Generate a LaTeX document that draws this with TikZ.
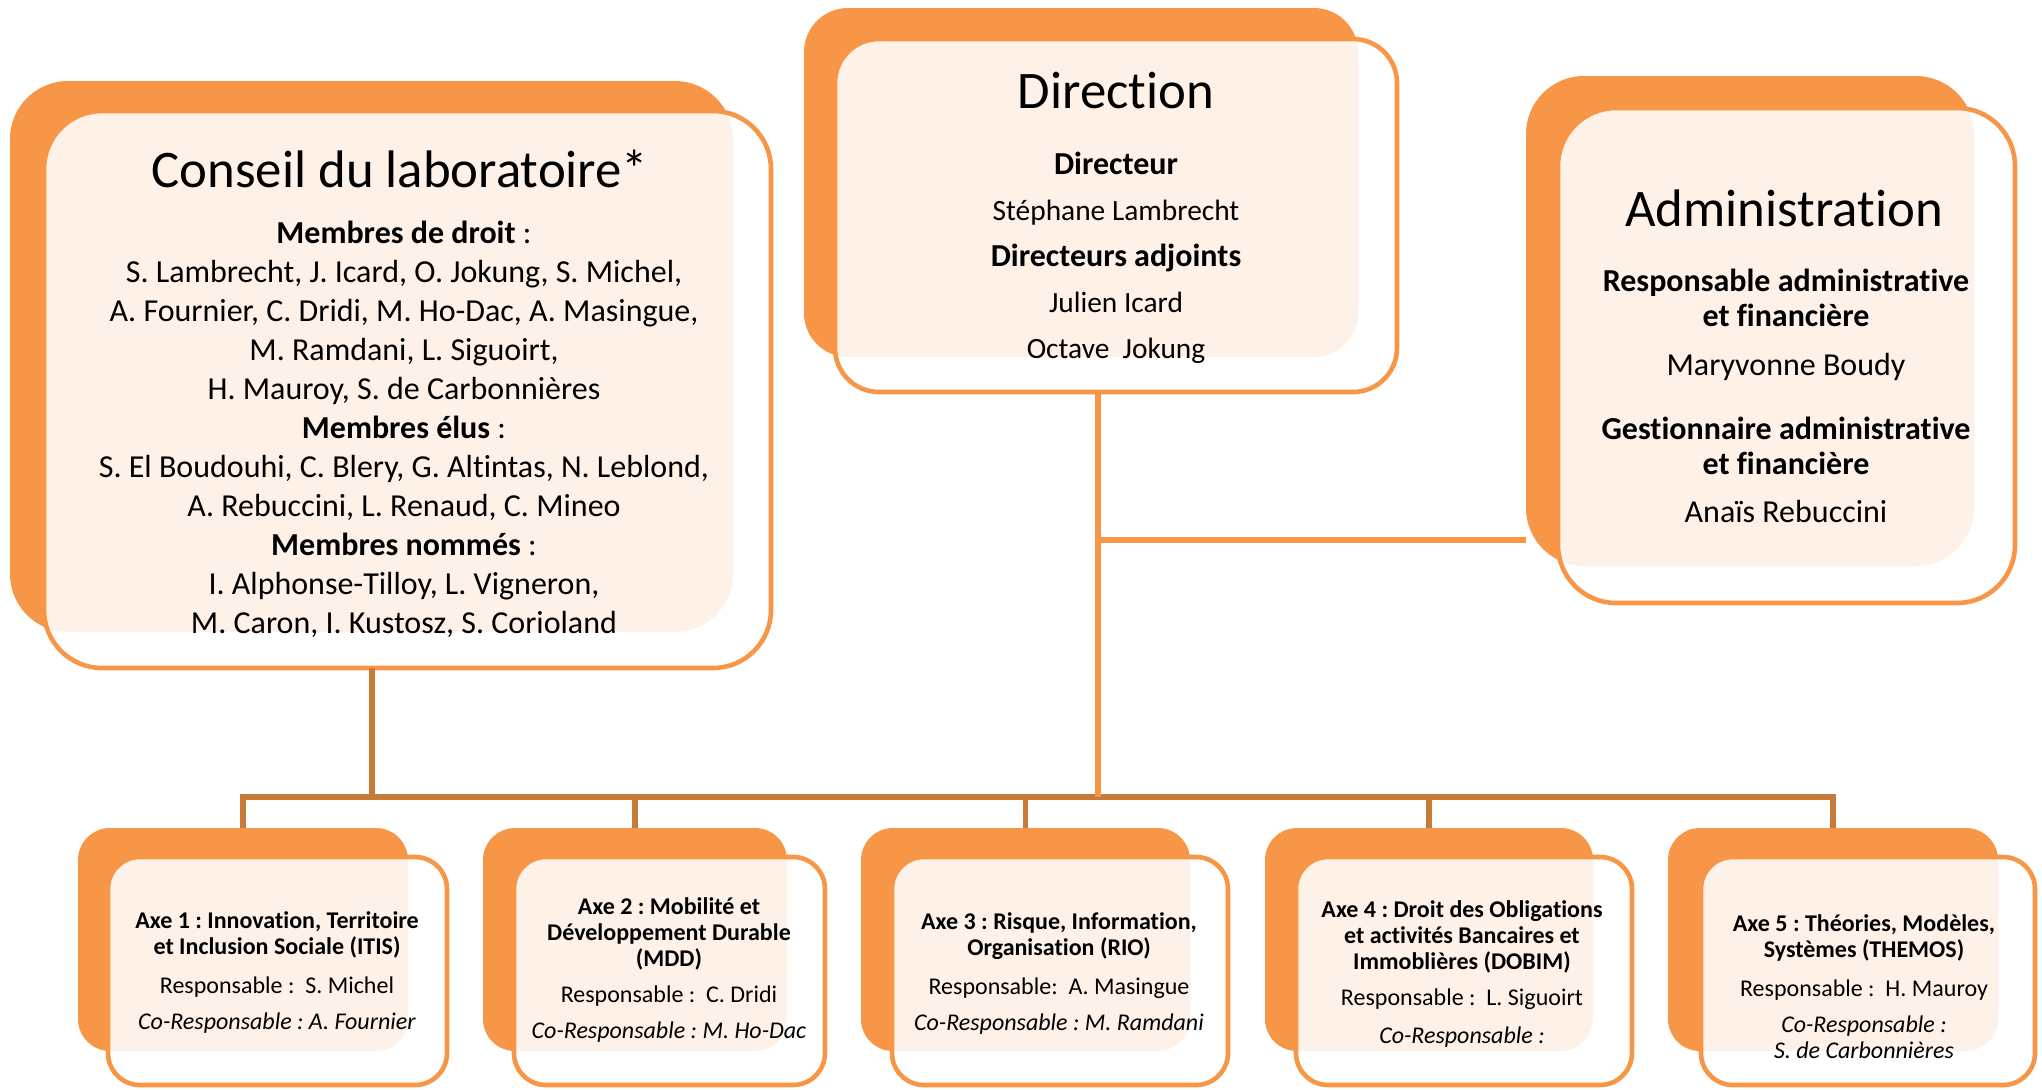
\documentclass[tikz,border=0pt]{standalone}
\usepackage{fontspec}
\setmainfont{Carlito}[RawFeature={-liga}]
\frenchspacing
\definecolor{orgorange}{RGB}{247,150,70}
\definecolor{busbrown}{RGB}{200,122,57}
\begin{document}
\begin{tikzpicture}[x=0.5pt,y=-0.5pt,
  backbox/.style={rectangle,fill=orgorange,draw=none,inner sep=0pt},
  frontbox/.style={rectangle,draw=orgorange,line width=2.3pt,fill=white,fill opacity=0.88,inner sep=0pt},
  dirline/.style={draw=orgorange,line width=3pt},
  busline/.style={draw=busbrown,line width=2.6pt},
  title/.style={inner sep=0pt,font=\fontsize{26.4}{30}\selectfont},
  bigtext/.style={inner sep=0pt,align=center,font=\fontsize{16}{19.5}\selectfont},
  axetext/.style={inner sep=0pt,align=center,font=\fontsize{12}{13}\selectfont}]
\useasboundingbox (0,0) rectangle (2042,1089);
\fill[white] (0,0) rectangle (2042,1089);

% ---------- boxes ----------
% Conseil
\node[backbox,rounded corners=29pt,minimum width=361.5pt,minimum height=275.5pt] (cb) at (371.5,356.5) {};
\node[frontbox,rounded corners=29pt,minimum width=363.5pt,minimum height=278.5pt] (cf) at (407.5,389.5) {};
% Direction
\node[backbox,rounded corners=22pt,minimum width=277pt,minimum height=174.5pt] (db) at (1081,182.5) {};
\node[frontbox,rounded corners=22pt,minimum width=281pt,minimum height=176.5pt] (df) at (1116,215.5) {};
% Administration
\node[backbox,rounded corners=29pt,minimum width=224pt,minimum height=245pt] (ab) at (1750,321) {};
\node[frontbox,rounded corners=29pt,minimum width=228.5pt,minimum height=247.5pt] (af) at (1786.5,355.5) {};
% Axes
\node[backbox,rounded corners=16pt,minimum width=165pt,minimum height=111.5pt] (x1b) at (243,939.5) {};
\node[frontbox,rounded corners=16pt,minimum width=169.5pt,minimum height=114pt] (x1f) at (277.5,971) {};
\node[backbox,rounded corners=16pt,minimum width=152pt,minimum height=111.5pt] (x2b) at (635,939.5) {};
\node[frontbox,rounded corners=16pt,minimum width=155.5pt,minimum height=114pt] (x2f) at (669.5,971) {};
\node[backbox,rounded corners=16pt,minimum width=164.5pt,minimum height=111.5pt] (x3b) at (1025.5,939.5) {};
\node[frontbox,rounded corners=16pt,minimum width=168pt,minimum height=114pt] (x3f) at (1060,971) {};
\node[backbox,rounded corners=16pt,minimum width=164pt,minimum height=111.5pt] (x4b) at (1429,939.5) {};
\node[frontbox,rounded corners=16pt,minimum width=168pt,minimum height=114pt] (x4f) at (1464,971) {};
\node[backbox,rounded corners=16pt,minimum width=165pt,minimum height=111.5pt] (x5b) at (1833,939.5) {};
\node[frontbox,rounded corners=16pt,minimum width=167pt,minimum height=114pt] (x5f) at (1868,971) {};

% ---------- connectors ----------
\coordinate (busL) at (243,797);
\coordinate (busR) at (1833,797);
\coordinate (dirx) at (1098,392);
\coordinate (dirbus) at (1098,797);
\coordinate (admj) at (1098,540);
\coordinate (consx) at (372,668);
\coordinate (consbus) at (372,797);
\draw[busline] (consx) -- (consbus);
\draw[busline,line join=miter] (x1b.north) -- (busL) -- (busR) -- (x5b.north);
\draw[busline] (x2b.north) -- (x2b.north |- busL);
\draw[busline] (x3b.north) -- (x3b.north |- busL);
\draw[busline] (x4b.north) -- (x4b.north |- busL);
\draw[dirline] (dirx) -- (dirbus);
\draw[dirline] (admj) -- (ab.west |- admj);

% ---------- texts ----------
\node[title] (ct) at (400,169) {Conseil du laboratoire*};
\node[bigtext] (cbody) at (404,429) {\textbf{Membres de droit} :\\
S. Lambrecht, J. Icard, O. Jokung, S. Michel,\\
A. Fournier, C. Dridi, M. Ho-Dac, A. Masingue,\\
M. Ramdani, L. Siguoirt,\\
H. Mauroy, S. de Carbonnières\\
\textbf{Membres élus} :\\
S. El Boudouhi, C. Blery, G. Altintas, N. Leblond,\\
A. Rebuccini, L. Renaud, C. Mineo\\
\textbf{Membres nommés} :\\
I. Alphonse-Tilloy, L. Vigneron,\\
M. Caron, I. Kustosz, S. Corioland};

\node[title] (dt) at (1116,91) {Direction};
\node[inner sep=0pt,align=center,font=\fontsize{14.7}{23}\selectfont] (dbody) at (1116,258) {{\fontsize{16}{23}\selectfont\textbf{Directeur}}\\
Stéphane Lambrecht\\
{\fontsize{16}{23}\selectfont\textbf{Directeurs adjoints}}\\
Julien Icard\\
Octave~ Jokung};

\node[title] (at) at (1784,208) {Administration};
\node[inner sep=0pt,align=center,font=\fontsize{16}{17.5}\selectfont] (abody) at (1786,396) {\textbf{Responsable administrative}\\
\textbf{et financière}\\[7pt]
Maryvonne Boudy\\[14.5pt]
\textbf{Gestionnaire administrative}\\
\textbf{et financière}\\[6.5pt]
Anaïs Rebuccini};

\node[axetext] (x1t) at (277,972) {\textbf{Axe 1 : Innovation, Territoire}\\
\textbf{et Inclusion Sociale (ITIS)}\\[6.5pt]
Responsable :~ S. Michel\\[5pt]
\textit{Co-Responsable : A. Fournier}};

\node[axetext] (x2t) at (669,970) {\textbf{Axe 2 : Mobilité et}\\
\textbf{Développement Durable}\\
\textbf{(MDD)}\\[5pt]
Responsable :~ C. Dridi\\[5pt]
\textit{Co-Responsable : M. Ho-Dac}};

\node[axetext] (x3t) at (1059,973) {\textbf{Axe 3 : Risque, Information,}\\
\textbf{Organisation (RIO)}\\[6.5pt]
Responsable:~ A. Masingue\\[5pt]
\textit{Co-Responsable : M. Ramdani}};

\node[axetext] (x4t) at (1462,974) {\textbf{Axe 4 : Droit des Obligations}\\
\textbf{et activités Bancaires et}\\
\textbf{Immoblières (DOBIM)}\\[5pt]
Responsable :~ L. Siguoirt\\[6pt]
\textit{Co-Responsable :}};

\node[axetext] (x5t) at (1864,987) {\textbf{Axe 5 : Théories, Modèles,}\\
\textbf{Systèmes (THEMOS)}\\[6.5pt]
Responsable :~ H. Mauroy\\[5pt]
\textit{Co-Responsable :}\\
\textit{S. de Carbonnières}};
\end{tikzpicture}
\end{document}
